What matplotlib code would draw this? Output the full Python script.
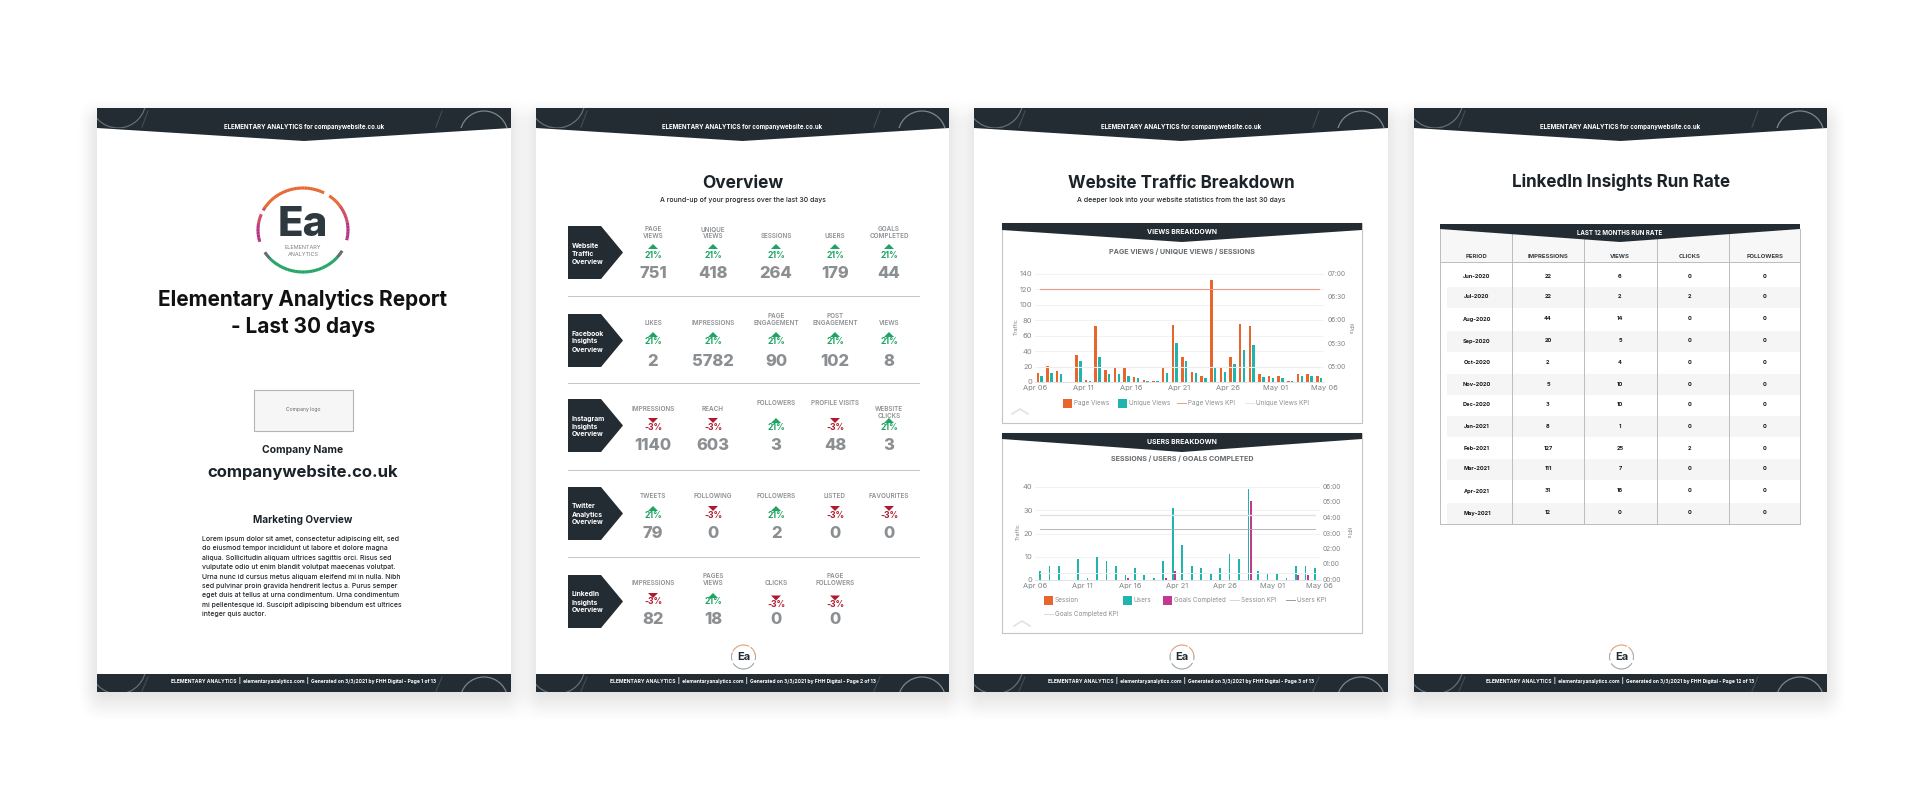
import numpy as np
import matplotlib
matplotlib.use('Agg')
import matplotlib.pyplot as plt
from matplotlib.patches import Rectangle, Polygon, Arc

W, H = 1920, 800
DARK = '#232c33'
ORANGE = '#e8662e'
TEAL = '#1fb5ad'
MAGENTA = '#c2398f'
GREEN = '#1fa463'
RED = '#b01a2e'
GREY = '#8c8f92'
FONT = 'Inter'

# website traffic chart
days_a = ['Apr 06', 'Apr 11', 'Apr 16', 'Apr 21', 'Apr 26', 'May 01', 'May 06']
page_views = [12, 21, 14, 0, 35, 2, 72, 15, 18, 20, 7, 2, 1, 18, 74, 33, 13, 8, 132, 20,
              32, 75, 72, 10, 8, 8, 1, 10, 10, 8]
unique_views = [8, 12, 10, 0, 27, 1, 33, 11, 10, 8, 5, 1, 1, 12, 50, 27, 12, 5, 20, 13,
                23, 42, 48, 7, 5, 5, 1, 8, 8, 5]
page_views_kpi = 120
unique_views_kpi = 20
left_ticks_a = [0, 20, 40, 60, 80, 100, 120, 140]
right_ticks_a = ['05:00', '05:30', '06:00', '06:30', '07:00']

# users chart
users = [4, 6, 6, 0, 9, 1, 10, 8, 6, 2, 5, 2, 1, 8, 31, 15, 6, 5, 3, 5,
         11, 9, 39, 4, 3, 3, 1, 6, 6, 5]
goals = [0, 0, 0, 0, 0, 0, 0, 0, 0, 1, 0, 0, 0, 1, 4, 0, 0, 0, 0, 0,
         0, 0, 34, 0, 0, 0, 0, 2, 2, 0]
session_kpi = 28
users_kpi = 22
goals_kpi = 3
left_ticks_b = [0, 10, 20, 30, 40]
right_ticks_b = ['00:00', '01:00', '02:00', '03:00', '04:00', '05:00', '06:00']

# overview page
section_titles = ['Website\nTraffic\nOverview', 'Facebook\nInsights\nOverview',
                  'Instagram\nInsights\nOverview', 'Twitter\nAnalytics\nOverview',
                  'LinkedIn\nInsights\nOverview']
metric_labels = [['PAGE\nVIEWS', 'UNIQUE\nVIEWS', 'SESSIONS', 'USERS', 'GOALS\nCOMPLETED'],
                 ['LIKES', 'IMPRESSIONS', 'PAGE\nENGAGEMENT', 'POST\nENGAGEMENT', 'VIEWS'],
                 ['IMPRESSIONS', 'REACH', 'FOLLOWERS', 'PROFILE VISITS', 'WEBSITE\nCLICKS'],
                 ['TWEETS', 'FOLLOWING', 'FOLLOWERS', 'LISTED', 'FAVOURITES'],
                 ['IMPRESSIONS', 'PAGES\nVIEWS', 'CLICKS', 'PAGE\nFOLLOWERS']]
metric_pcts = [[21, 21, 21, 21, 21], [21, 21, 21, 21, 21], [-3, -3, 21, -3, 21],
               [21, -3, 21, -3, -3], [-3, 21, -3, -3]]
metric_values = [[751, 418, 264, 179, 44], [2, 5782, 90, 102, 8], [1140, 603, 3, 48, 3],
                 [79, 0, 2, 0, 0], [82, 18, 0, 0]]

# linkedin table
table_cols = ['PERIOD', 'IMPRESSIONS', 'VIEWS', 'CLICKS', 'FOLLOWERS']
periods = ['Jun-2020', 'Jul-2020', 'Aug-2020', 'Sep-2020', 'Oct-2020', 'Nov-2020',
           'Dec-2020', 'Jan-2021', 'Feb-2021', 'Mar-2021', 'Apr-2021', 'May-2021']
impressions = [22, 22, 44, 20, 2, 5, 3, 8, 127, 111, 31, 12]
views = [6, 2, 14, 5, 4, 10, 10, 1, 25, 7, 16, 0]
clicks = [0, 2, 0, 0, 0, 0, 0, 0, 2, 0, 0, 0]
followers = [0, 0, 0, 0, 0, 0, 0, 0, 0, 0, 0, 0]

lorem = ['Lorem ipsum dolor sit amet, consectetur adipiscing elit, sed',
         'do eiusmod tempor incididunt ut labore et dolore magna',
         'aliqua. Sollicitudin aliquam ultrices sagittis orci. Risus sed',
         'vulputate odio ut enim blandit volutpat maecenas volutpat.',
         'Urna nunc id cursus metus aliquam eleifend mi in nulla. Nibh',
         'sed pulvinar proin gravida hendrerit lectus a. Purus semper',
         'eget duis at tellus at urna condimentum. Urna condimentum',
         'mi pellentesque id. Suscipit adipiscing bibendum est ultrices',
         'integer quis auctor.']

fig = plt.figure(figsize=(W / 100, H / 100), dpi=100, facecolor='white')
bg = fig.add_axes([0, 0, 1, 1])
bg.set_xlim(0, W)
bg.set_ylim(H, 0)
bg.axis('off')


def txt(x, y, s, px, color='#1c2328', weight='normal', ha='center', **kw):
    # font size given in pixels, easier to compare with the picture
    return bg.text(x, y, s, fontsize=px * 0.72, color=color, fontweight=weight, ha=ha,
                   va='center', family=FONT, **kw)


def rect(x0, y0, x1, y1, **kw):
    bg.add_patch(Rectangle((x0, y0), x1 - x0, y1 - y0, **kw))


def vband(x0, x1, top, edge, tip, zorder=3):
    pts = [(x0, top), (x1, top), (x1, edge), ((x0 + x1) / 2, tip), (x0, edge)]
    bg.add_patch(Polygon(pts, closed=True, fc=DARK, ec='none', zorder=zorder))


def swirls(x0, x1, top, bottom):
    # faint ornaments in the dark bars
    clip = Rectangle((x0, top), x1 - x0, bottom - top, transform=bg.transData)
    right = Arc((x1 - 27, top + 27), 48, 48, theta1=180, theta2=360, ec='#7d868b', lw=0.9, zorder=4)
    left = Arc((x0 + 21, top - 8), 56, 56, theta1=0, theta2=180, ec='#646e74', lw=0.9, zorder=4)
    for arc in (right, left):
        bg.add_patch(arc)
        arc.set_clip_path(clip)
    for xx in [x0 + 45, x1 - 75]:
        bg.plot([xx, xx + 6], [bottom - 1, top + 3], color='#434d53', lw=0.8, zorder=4)


def ring(cx, cy, rx, ry, lw, big=True):
    ang = np.radians(np.arange(0, 360, 2))
    for a in ang:
        deg = np.degrees(a)
        if 195 < deg < 212 or 328 < deg < 345 or 52 < deg < 62 or 150 < deg < 158:
            continue
        s = np.sin(a)
        if not big:
            col = '#8a8f8f' if s < 0.3 else '#d98a55'
        elif s > 0.55:
            col = ORANGE
        elif s > 0.15:
            col = '#cc4a60'
        elif s > -0.35:
            col = '#b5317f'
        elif s > -0.65:
            col = '#5b6a68'
        else:
            col = GREEN
        bg.plot([cx + rx * np.cos(a), cx + rx * np.cos(a + 0.04)],
                [cy - ry * np.sin(a), cy - ry * np.sin(a + 0.04)],
                color=col, lw=lw, solid_capstyle='butt', zorder=5)


pages = [(97, 511), (536, 949), (974, 1388), (1414, 1827)]
page_no = [1, 2, 3, 12]
TOP, BOTTOM = 108, 692

# soft shadow under the pages
xx_, yy_ = np.arange(W) + 0.5, np.arange(H) + 0.5
shade = np.ones((H, W))
for x0, x1 in pages:
    fx = np.clip((xx_ - (x0 - 22)) / 30, 0, 1) * np.clip(((x1 + 22) - xx_) / 30, 0, 1)
    fy = np.clip((yy_ - (TOP - 12)) / 30, 0, 1) * np.clip(((BOTTOM + 34) - yy_) / 40, 0, 1)
    fx, fy = fx * fx * (3 - 2 * fx), fy * fy * (3 - 2 * fy)
    shade *= 1 - 0.11 * np.outer(fy, fx)
bg.imshow(shade, cmap='gray', vmin=0, vmax=1, extent=(0, W, H, 0), aspect='auto', zorder=1)
bg.set_xlim(0, W)
bg.set_ylim(H, 0)

for i, (x0, x1) in enumerate(pages):
    rect(x0, TOP, x1, BOTTOM, fc='white', ec='none', zorder=2)
    mid = (x0 + x1) / 2
    vband(x0, x1, TOP, 128, 141)
    swirls(x0, x1, TOP, 128)
    txt(mid, 127.5, 'ELEMENTARY ANALYTICS for companywebsite.co.uk', 6.1, 'white', 'bold', zorder=6)
    rect(x0, 674, x1, BOTTOM, fc=DARK, ec='none', zorder=3)
    swirls(x0, x1, 674, BOTTOM)
    txt(mid, 680, 'ELEMENTARY ANALYTICS  |  elementaryanalytics.com  |  Generated on 3/3/2021 by FHH Digital - Page %d of 13'
        % page_no[i], 5.0, 'white', 'bold', zorder=6)
    if i:
        ring(mid + 1, 657, 12, 12, 0.7, big=False)
        txt(mid + 1, 657, 'Ea', 11, DARK, 'bold', zorder=6)

# page 1, cover
ring(303, 230, 45, 42, 2.2)
txt(303, 225, 'Ea', 42, '#2d383f', 'heavy', zorder=6)
txt(303, 247.5, 'ELEMENTARY', 5.5, '#7a7f82')
txt(303, 254.5, 'ANALYTICS', 5.5, '#7a7f82')
txt(303, 299, 'Elementary Analytics Report', 20.8, '#111111', 'bold')
txt(303, 327, '- Last 30 days', 20.8, '#111111', 'bold')
rect(254, 390, 353, 431, fc='#f6f6f6', ec='#b5b5b5', lw=0.8, zorder=3)
txt(303.5, 410, 'Company logo', 5, '#666666', zorder=4)
txt(303, 450, 'Company Name', 10.4, '#1c2328', 'bold')
txt(303, 472, 'companywebsite.co.uk', 16.7, '#1c2328', 'bold')
txt(303, 520, 'Marketing Overview', 10, '#1c2328', 'bold')
for n, line in enumerate(lorem):
    txt(202, 539 + n * 9.4, line, 6.9, '#22282c', 'medium', ha='left')

# page 2, overview
txt(743, 183, 'Overview', 17.4, '#1c2328', 'bold')
txt(743, 200, 'A round-up of your progress over the last 30 days', 6.9, '#22282c', 'medium')
col_x = [653, 713, 776, 835, 889]
row_top = [226, 314, 399, 487, 575]
row_label = [236, 323, 409, 496, 583]
row_tri = [244, 332, 418, 506, 593]
row_pct = [255, 342, 428, 515, 602]
row_val = [274, 361, 446, 534, 620]
for r, top in enumerate(row_top):
    pts = [(568, top), (601, top), (623, top + 26.5), (601, top + 53), (568, top + 53)]
    bg.add_patch(Polygon(pts, closed=True, fc=DARK, ec='none', zorder=3))
    for n, line in enumerate(section_titles[r].split('\n')):
        txt(572, top + 19.5 + n * 8, line, 6.8, 'white', 'bold', ha='left', zorder=6)
    for c, label in enumerate(metric_labels[r]):
        ly = row_label[r]
        shift = 0
        if r == 2 and c in (2, 3):
            ly = 403
        if r == 4 and c >= 2:
            shift = 2.5
        parts = label.split('\n')
        if len(parts) == 2:
            if r == 2:
                txt(col_x[c], ly, parts[0], 6.3, GREY, 'semibold')
                txt(col_x[c], ly + 7, parts[1], 6.3, GREY, 'semibold')
            else:
                txt(col_x[c], ly - 7, parts[0], 6.3, GREY, 'semibold')
                txt(col_x[c], ly, parts[1], 6.3, GREY, 'semibold')
        else:
            txt(col_x[c], ly, label, 6.3, GREY, 'semibold')
        pct = metric_pcts[r][c]
        col = GREEN if pct > 0 else RED
        ty = row_tri[r] + shift
        if pct > 0:
            tri = [(col_x[c] - 5, ty + 5), (col_x[c] + 5, ty + 5), (col_x[c], ty)]
        else:
            tri = [(col_x[c] - 5, ty), (col_x[c] + 5, ty), (col_x[c], ty + 5)]
        bg.add_patch(Polygon(tri, closed=True, fc=col, ec='none', zorder=3))
        txt(col_x[c], row_pct[r] + shift, '%d%%' % pct, 8.6, col, 'bold')
        txt(col_x[c], row_val[r], str(metric_values[r][c]), 16.5, GREY, 'heavy')
for sy in [296, 383, 470, 557]:
    bg.plot([568, 919], [sy, sy], color='#c4c4c4', lw=0.7, zorder=3)

# page 3, charts
txt(1181, 183, 'Website Traffic Breakdown', 17, '#1c2328', 'bold')
txt(1181, 200, 'A deeper look into your website statistics from the last 30 days', 6.9, '#22282c', 'medium')


def panel(top, bottom, edge, tip, title, subtitle):
    rect(1002, top, 1362, bottom, fc='white', ec='#c4c4c4', lw=0.8, zorder=3)
    vband(1002, 1362, top, edge, tip, zorder=4)
    txt(1182, top + 9.5, title, 6.8, 'white', 'bold', zorder=6)
    txt(1182, top + 29 if top < 400 else top + 26, subtitle, 7.1, '#666a6d', 'bold', zorder=6)
    mx = 1020 if top < 400 else 1022
    my = bottom - 11 if top < 400 else bottom - 9
    bg.plot([mx - 8, mx, mx + 8], [my + 2, my - 3, my + 2], color='#e2e2e2', lw=1.2, zorder=6)


def chart_axes(x0, x1, y_top, y_base, ymax, yticks):
    ax = fig.add_axes([x0 / W, 1 - y_base / H, (x1 - x0) / W, (y_base - y_top) / H], zorder=5)
    ax.patch.set_alpha(0)
    for s in ax.spines.values():
        s.set_visible(False)
    ax.spines['bottom'].set_visible(True)
    ax.spines['bottom'].set_color('#dddddd')
    ax.spines['bottom'].set_linewidth(0.6)
    ax.set_xlim(-0.5, 29.5)
    ax.set_ylim(0, ymax)
    ax.set_yticks(yticks)
    ax.grid(axis='y', color='#f2f2f2', lw=0.7)
    ax.set_axisbelow(True)
    ax.tick_params(length=0, labelsize=5.4, labelcolor='#808487', pad=2)
    for t in ax.get_yticklabels():
        t.set_family(FONT)
    ax.set_xticks(np.arange(-0.5, 30, 5))
    ax.set_xticklabels(days_a, family=FONT)
    return ax


def legend_item(kind, x, y, color, label):
    if kind == 'box':
        rect(x, y - 4.5, x + 9, y + 4.5, fc=color, ec='none', zorder=6)
        txt(x + 11, y, label, 6.4, '#8a8e90', ha='left', zorder=6)
    else:
        bg.plot([x, x + 9], [y, y], color=color, lw=0.7, zorder=6)
        txt(x + 11, y, label, 6.4, '#8a8e90', ha='left', zorder=6)


def right_labels(x, base, top, labels):
    for lab, yy in zip(labels, np.linspace(base, top, len(labels))):
        txt(x, yy, lab, 6.6, '#808487', ha='left', zorder=6)


panel(223, 423, 230, 242, 'VIEWS BREAKDOWN', 'PAGE VIEWS / UNIQUE VIEWS / SESSIONS')
ax1 = chart_axes(1035, 1324, 274, 382, 140, left_ticks_a)
days = np.arange(len(page_views))
ax1.bar(days - 0.2, page_views, width=0.26, color=ORANGE)
ax1.bar(days + 0.2, unique_views, width=0.26, color=TEAL)
ax1.plot([0, 29], [page_views_kpi, page_views_kpi], color='#e89a8c', lw=0.8)
ax1.plot([0, 29], [unique_views_kpi, unique_views_kpi], color='#ececec', lw=0.8)
right_labels(1328, 367, 274, right_ticks_a)
txt(1016, 327, 'Traffic', 5.4, '#808487', rotation=90, zorder=6)
txt(1350, 329, 'KPIs', 5.4, '#808487', rotation=270, zorder=6)
legend_item('box', 1063, 403, ORANGE, 'Page Views')
legend_item('box', 1118, 403, TEAL, 'Unique Views')
legend_item('line', 1177, 403, '#e89a8c', 'Page Views KPI')
legend_item('line', 1245, 403, '#e5e5e5', 'Unique Views KPI')

panel(433, 633, 439, 452, 'USERS BREAKDOWN', 'SESSIONS / USERS / GOALS COMPLETED')
ax2 = chart_axes(1035.3, 1319.7, 487, 580, 40, left_ticks_b)
ax2.bar(days, users, width=0.18, color=TEAL)
ax2.bar(days + 0.25, goals, width=0.2, color=MAGENTA)
ax2.plot([0, 29], [session_kpi, session_kpi], color='#dfe3e0', lw=1.0, zorder=1)
ax2.plot([0, 29], [users_kpi, users_kpi], color='#a8abad', lw=0.6, zorder=1)
ax2.plot([0, 29], [goals_kpi, goals_kpi], color='#efefef', lw=0.7, zorder=1)
right_labels(1323, 580, 487, right_ticks_b)
txt(1018, 532, 'Traffic', 5.4, '#808487', rotation=90, zorder=6)
txt(1348, 533, 'KPIs', 5.4, '#808487', rotation=270, zorder=6)
legend_item('box', 1044, 600, ORANGE, 'Session')
legend_item('box', 1123, 600, TEAL, 'Users')
legend_item('box', 1163, 600, MAGENTA, 'Goals Completed')
legend_item('line', 1230, 600, '#d4d9d6', 'Session KPI')
legend_item('line', 1286, 600, '#9a9d9f', 'Users KPI')
legend_item('line', 1044, 614, '#d9d9d9', 'Goals Completed KPI')

# page 4, table
txt(1621, 182, 'LinkedIn Insights Run Rate', 17, '#1c2328', 'bold')
rect(1440, 229, 1800, 262, fc='#f7f7f7', ec='none', zorder=3)
row_y = [276, 297, 319, 341, 362, 384, 404, 426, 448, 469, 491, 513]
for n, yy in enumerate(row_y):
    if n % 2:
        rect(1447, yy - 10.5, 1800, yy + 10.5, fc='#f5f5f5', ec='none', zorder=3)
vband(1440, 1800, 224, 229, 242, zorder=5)
txt(1620, 233, 'LAST 12 MONTHS RUN RATE', 6.1, 'white', 'bold', zorder=6)
for xx in [1440, 1512, 1584, 1657, 1729, 1800]:
    bg.plot([xx, xx], [229, 524], color='#bcbcbc', lw=0.7, zorder=4)
bg.plot([1440, 1800], [262, 262], color='#bcbcbc', lw=0.7, zorder=4)
bg.plot([1440, 1800], [524, 524], color='#bcbcbc', lw=0.7, zorder=4)
table_x = [1477, 1548, 1620, 1690, 1765]
for cx, name in zip(table_x, table_cols):
    txt(cx, 256, name, 6, '#3a4045', 'bold', zorder=6)
for n, yy in enumerate(row_y):
    cells = [periods[n], impressions[n], views[n], clicks[n], followers[n]]
    for cx, val in zip(table_x, cells):
        txt(cx, yy, str(val), 5.6, '#15191c', 'bold', zorder=6)

fig.savefig('out.png', dpi=100)
